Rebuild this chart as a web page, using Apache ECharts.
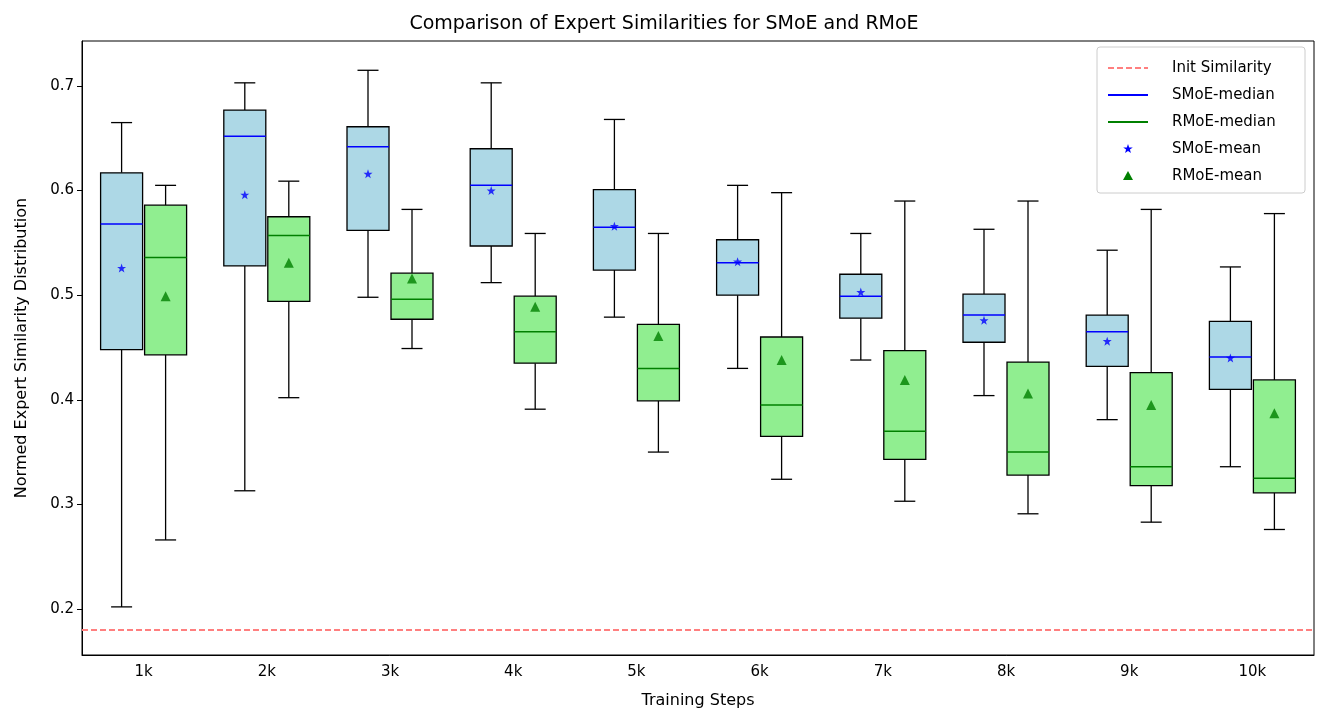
<!DOCTYPE html><html><head><meta charset="utf-8"><script src="https://cdn.jsdelivr.net/npm/echarts@6/dist/echarts.min.js"></script>
<style>body{margin:0}#c{width:1328px;height:726px}</style></head><body><div id="c"></div><script>
const categories=['1k','2k','3k','4k','5k','6k','7k','8k','9k','10k'];
// [min,q1,median,q3,max]
const smoeBox=[[0.202,0.448,0.568,0.617,0.665],[0.313,0.528,0.652,0.677,0.703],[0.498,0.562,0.642,0.661,0.715],[0.512,0.547,0.605,0.640,0.703],[0.479,0.524,0.565,0.601,0.668],[0.430,0.500,0.531,0.553,0.605],[0.438,0.478,0.499,0.520,0.559],[0.404,0.455,0.481,0.501,0.563],[0.381,0.432,0.465,0.481,0.543],[0.336,0.410,0.441,0.475,0.527]];
const rmoeBox=[[0.266,0.443,0.536,0.586,0.605],[0.402,0.494,0.557,0.575,0.609],[0.449,0.477,0.496,0.521,0.582],[0.391,0.435,0.465,0.499,0.559],[0.350,0.399,0.430,0.472,0.559],[0.324,0.365,0.395,0.460,0.598],[0.303,0.343,0.370,0.447,0.590],[0.291,0.328,0.350,0.436,0.590],[0.283,0.318,0.336,0.426,0.582],[0.276,0.311,0.325,0.419,0.578]];
const smoeMean=[0.526,0.596,0.616,0.600,0.566,0.532,0.503,0.476,0.456,0.440];
const rmoeMean=[0.499,0.531,0.516,0.489,0.461,0.438,0.419,0.406,0.395,0.387];
const initSim=0.1837;
const font='DejaVu Sans';
function starPts(cx,cy,R,r){const p=[];for(let k=0;k<10;k++){const a=-Math.PI/2+k*Math.PI/5,rr=k%2?r:R;p.push([cx+rr*Math.cos(a),cy+rr*Math.sin(a)]);}return p;}
function boxSeries(box,off,fill,medColor){
 return {type:'custom',data:box.map((b,i)=>[i,...b]),z:3,
  renderItem:(p,api)=>{const x=api.coord([api.value(0),0.5])[0]+off;const y=k=>api.coord([api.value(0),api.value(k)])[1];
   const hw=21,cw=10.5,ls={stroke:'#000',lineWidth:1.3};
   return {type:'group',children:[
    {type:'line',shape:{x1:x,y1:y(1),x2:x,y2:y(2)},style:ls},
    {type:'line',shape:{x1:x,y1:y(4),x2:x,y2:y(5)},style:ls},
    {type:'line',shape:{x1:x-cw,y1:y(1),x2:x+cw,y2:y(1)},style:ls},
    {type:'line',shape:{x1:x-cw,y1:y(5),x2:x+cw,y2:y(5)},style:ls},
    {type:'rect',shape:{x:x-hw,y:y(4),width:2*hw,height:y(2)-y(4)},style:{fill:fill,stroke:'#000',lineWidth:1.3}},
    {type:'line',shape:{x1:x-hw,y1:y(3),x2:x+hw,y2:y(3)},style:{stroke:medColor,lineWidth:1.5}}]};}};
}
const ch=echarts.init(document.getElementById('c'));
const lx=1108,ly=55,lh=27;
const legItems=[['Init Similarity','dash'],['SMoE-median','blue'],['RMoE-median','green'],['SMoE-mean','star'],['RMoE-mean','tri']];
const g=[{type:'rect',shape:{x:1097,y:47,width:208,height:146,r:3},style:{fill:'#fff',stroke:'#ccc',lineWidth:1},z:10},
 {type:'rect',shape:{x:82,y:41,width:1232,height:614},style:{fill:'none',stroke:'#000',lineWidth:1},z:1}];
legItems.forEach((it,i)=>{const yy=ly+13+i*lh;
 if(it[1]=='dash')g.push({type:'line',shape:{x1:lx,y1:yy,x2:lx+40,y2:yy},style:{stroke:'#ff7f7f',lineWidth:2,lineDash:[6,3]},z:11});
 else if(it[1]=='blue'||it[1]=='green')g.push({type:'line',shape:{x1:lx,y1:yy,x2:lx+40,y2:yy},style:{stroke:it[1]=='blue'?'#0000ff':'#008000',lineWidth:2},z:11});
 else if(it[1]=='star')g.push({type:'polygon',shape:{points:starPts(lx+20,yy,5,2)},style:{fill:'#0000ff'},z:11});
 else g.push({type:'polygon',shape:{points:[[lx+20,yy-5],[lx+25,yy+4],[lx+15,yy+4]]},style:{fill:'#008000'},z:11});
 g.push({type:'text',x:lx+64,y:yy,style:{text:it[0],font:'15px '+font,fill:'#000',verticalAlign:'middle'},z:11});
});
ch.setOption({animation:false,
 title:{text:'Comparison of Expert Similarities for SMoE and RMoE',left:'center',top:10,textStyle:{fontFamily:font,fontWeight:'normal',fontSize:19,color:'#000'}},
 grid:{left:82,right:14,top:41,bottom:71},
 xAxis:{type:'category',data:categories,name:'Training Steps',nameLocation:'middle',nameGap:38,nameTextStyle:{fontFamily:font,fontSize:16,color:'#000'},
  axisLine:{lineStyle:{color:'#000'}},axisTick:{alignWithLabel:true,lineStyle:{color:'#000'}},axisLabel:{fontFamily:font,fontSize:15,color:'#000',margin:10},splitLine:{show:false}},
 yAxis:{type:'value',min:0.156,max:0.743,name:'Normed Expert Similarity Distribution',nameLocation:'middle',nameGap:52,nameTextStyle:{fontFamily:font,fontSize:16,color:'#000'},
  axisLine:{show:true,lineStyle:{color:'#000'}},splitLine:{show:false},
  axisLabel:{fontFamily:font,fontSize:15,color:'#000',formatter:v=>v.toFixed(1),customValues:[0.2,0.3,0.4,0.5,0.6,0.7]},
  axisTick:{show:true,customValues:[0.2,0.3,0.4,0.5,0.6,0.7],lineStyle:{color:'#000'}}},
 graphic:g,
 series:[boxSeries(smoeBox,-22,'#add8e6','#0000ff'),boxSeries(rmoeBox,22,'#90ee90','#008000'),
  {type:'scatter',data:smoeMean,symbol:'path://M0,-5L1.2,-1.6L4.8,-1.6L1.9,0.6L3,4L0,2L-3,4L-1.9,0.6L-4.8,-1.6L-1.2,-1.6Z',symbolSize:9,symbolOffset:[-22,0],itemStyle:{color:'#0000ff'},z:5},
  {type:'scatter',data:rmoeMean,symbol:'triangle',symbolSize:10,symbolOffset:[22,0],itemStyle:{color:'#008000'},z:5},
  {type:'line',data:[],markLine:{silent:true,symbol:'none',label:{show:false},lineStyle:{color:'#ff7f7f',type:[6,3],width:2},data:[{yAxis:initSim}]}}]
});
</script></body></html>
